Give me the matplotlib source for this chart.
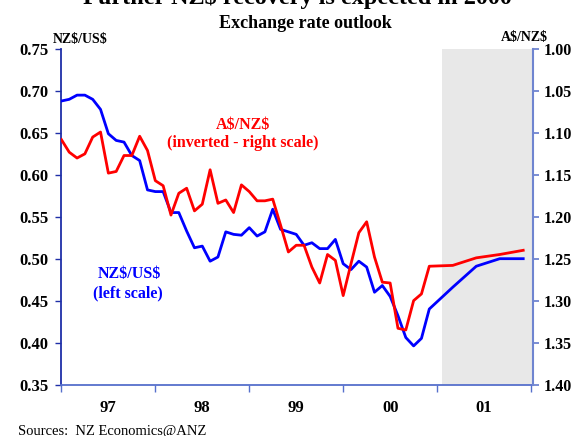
import matplotlib
matplotlib.use("Agg")
import matplotlib.pyplot as plt
from matplotlib.ticker import FixedLocator, NullFormatter, FixedFormatter

plt.rcParams['font.family'] = ['Liberation Serif', 'DejaVu Serif']
plt.rcParams['text.parse_math'] = False

# months since Jan 1997 (history monthly, forecast quarterly)
hist_months = list(range(48))
fcst_months = [47, 50, 53, 56, 59]

nzd_usd_hist = [0.688, 0.690, 0.695, 0.695, 0.690, 0.678, 0.649, 0.641, 0.639, 0.623,
                0.617, 0.582, 0.580, 0.580, 0.555, 0.555, 0.533, 0.513, 0.515, 0.497,
                0.502, 0.532, 0.529, 0.528, 0.537, 0.527, 0.532, 0.559, 0.535, 0.532,
                0.529, 0.516, 0.519, 0.512, 0.512, 0.523, 0.494, 0.487, 0.497, 0.490,
                0.460, 0.468, 0.455, 0.432, 0.406, 0.396, 0.405, 0.440]
nzd_usd_fcst = [0.440, 0.466, 0.491, 0.500, 0.500]

aud_nzd_hist = [1.108, 1.123, 1.130, 1.125, 1.105, 1.099, 1.148, 1.146, 1.127, 1.127,
                1.104, 1.121, 1.157, 1.163, 1.198, 1.172, 1.166, 1.193, 1.185, 1.144,
                1.184, 1.180, 1.195, 1.162, 1.170, 1.181, 1.181, 1.179, 1.210, 1.242,
                1.234, 1.234, 1.260, 1.279, 1.245, 1.252, 1.294, 1.256, 1.219, 1.206,
                1.248, 1.278, 1.279, 1.333, 1.335, 1.300, 1.292, 1.259]
aud_nzd_fcst = [1.259, 1.258, 1.249, 1.245, 1.240]

year_labels = ['97', '98', '99', '00', '01']
left_ticks = [0.35, 0.40, 0.45, 0.50, 0.55, 0.60, 0.65, 0.70, 0.75]
right_ticks = [1.00, 1.05, 1.10, 1.15, 1.20, 1.25, 1.30, 1.35, 1.40]
forecast_start = 48.6

W, H = 574, 436
fig = plt.figure(figsize=(W / 100, H / 100), dpi=100)
ax = fig.add_axes([61 / W, 1 - 384.5 / H, (533 - 61) / W, (384.5 - 49) / H])
ax2 = ax.twinx()

xmax = 60.25
ax.set_xlim(-0.05, xmax)
ax.set_ylim(0.35, 0.75)
ax2.set_ylim(1.40, 1.00)

ax.axvspan(forecast_start, xmax, color='#e8e8e8', zorder=0, lw=0)

ax.plot(hist_months + fcst_months[1:], nzd_usd_hist + nzd_usd_fcst[1:],
        color='#0000ff', lw=2.0, zorder=3)
ax2.plot(hist_months + fcst_months[1:], aud_nzd_hist + aud_nzd_fcst[1:],
         color='#ff0000', lw=2.0, zorder=3)

left_col = '#1f2fa8'
bot_col = '#5670cc'
right_col = '#6f85d0'

for a in (ax, ax2):
    a.spines['top'].set_visible(False)
ax.spines['left'].set_color(left_col)
ax.spines['bottom'].set_color(bot_col)
ax.spines['right'].set_visible(False)
ax2.spines['left'].set_visible(False)
ax2.spines['bottom'].set_visible(False)
ax2.spines['right'].set_color(right_col)
for s in ('left', 'bottom'):
    ax.spines[s].set_linewidth(1.3)
ax2.spines['right'].set_linewidth(1.5)

ax.set_yticks(left_ticks)
ax.set_yticklabels([f'{v:.2f}' for v in left_ticks], fontsize=12, fontweight='bold')
ax.tick_params(axis='y', direction='out', length=4, width=1, color=left_col, pad=5)

ax2.set_yticks(right_ticks)
ax2.set_yticklabels([f'{v:.2f}' for v in right_ticks], fontsize=11.5, fontweight='bold')
ax2.tick_params(axis='y', direction='out', length=4, width=1.3, color=right_col, pad=4)

ax.xaxis.set_major_locator(FixedLocator([0, 12, 24, 36, 48, 60]))
ax.xaxis.set_major_formatter(NullFormatter())
ax.xaxis.set_minor_locator(FixedLocator([6, 18, 30, 42, 54]))
ax.xaxis.set_minor_formatter(FixedFormatter(year_labels))
ax.tick_params(axis='x', which='major', direction='out', length=5, width=1, color=bot_col)
ax.tick_params(axis='x', which='minor', length=0, pad=11.5, labelsize=12)
for lbl in ax.get_xticklabels(minor=True):
    lbl.set_fontweight('bold')

# texts
fig.text(0.518, 1 - 4 / H, 'Further NZ$ recovery is expected in 2000',
         ha='center', va='baseline', fontsize=17.5, fontweight='bold')
fig.text(305 / W, 1 - 24 / H, 'Exchange rate outlook', ha='center', va='center',
         fontsize=13, fontweight='bold')
fig.text(80 / W, 1 - 39 / H, 'NZ$/US$', ha='center', va='center', fontsize=10, fontweight='bold')
fig.text(524 / W, 1 - 38 / H, 'A$/NZ$', ha='center', va='center', fontsize=10, fontweight='bold')
fig.text(18 / W, 1 - 431 / H, 'Sources:  NZ Economics@ANZ', ha='left', va='center', fontsize=10.5)

fig.text(243 / W, 1 - 125 / H, 'A$/NZ$', ha='center', va='center', fontsize=11.5,
         fontweight='bold', color='#ff0000')
fig.text(243 / W, 1 - 143 / H, '(inverted - right scale)', ha='center', va='center',
         fontsize=11.5, fontweight='bold', color='#ff0000')
fig.text(129 / W, 1 - 274 / H, 'NZ$/US$', ha='center', va='center', fontsize=11.5,
         fontweight='bold', color='#0000ff')
fig.text(128 / W, 1 - 293 / H, '(left scale)', ha='center', va='center', fontsize=11.5,
         fontweight='bold', color='#0000ff')

fig.savefig('out.png', dpi=100)
